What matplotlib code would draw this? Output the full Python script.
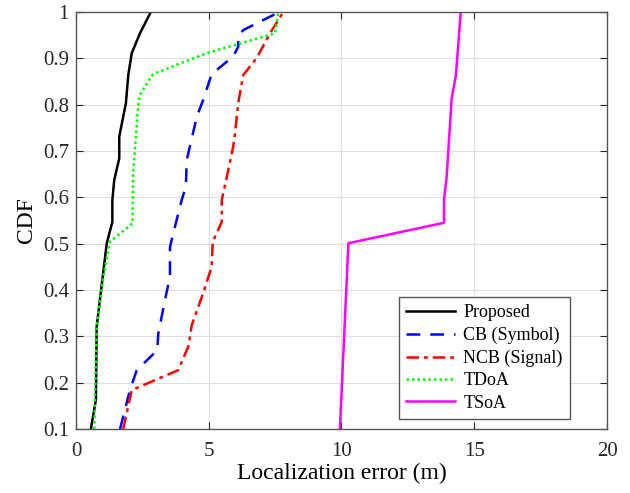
import numpy as np
import matplotlib.pyplot as plt

plt.rcParams['font.family'] = ['Liberation Serif', 'DejaVu Serif']

# CDF data
prop_x = [0.56, 0.75, 0.78, 1.16, 1.37, 1.37, 1.44, 1.63, 1.63, 1.88, 1.97, 2.10, 2.41, 2.82]
prop_y = [0.10, 0.163, 0.321, 0.501, 0.547, 0.594, 0.637, 0.684, 0.731, 0.803, 0.864, 0.911, 0.954, 1.0]

cb_x = [1.66, 2.03, 2.29, 3.06, 3.10, 3.35, 3.54, 3.54, 3.73, 3.98, 4.14, 4.17, 4.23, 4.55, 4.79, 5.11, 5.92, 6.11, 6.11, 6.30, 7.66]
cb_y = [0.10, 0.184, 0.227, 0.27, 0.306, 0.378, 0.429, 0.493, 0.537, 0.594, 0.623, 0.68, 0.695, 0.774, 0.81, 0.866, 0.904, 0.925, 0.947, 0.961, 1.0]

ncb_x = [1.78, 2.10, 3.85, 4.23, 4.36, 4.79, 5.11, 5.15, 5.49, 5.49, 5.68, 5.92, 5.99, 6.11, 6.30, 6.80, 7.31, 7.81]
ncb_y = [0.10, 0.184, 0.227, 0.278, 0.324, 0.393, 0.45, 0.504, 0.547, 0.594, 0.644, 0.709, 0.738, 0.803, 0.864, 0.90, 0.954, 1.0]

tdoa_x = [0.69, 0.78, 1.03, 1.28, 2.13, 2.15, 2.35, 2.41, 2.79, 2.91, 4.92, 7.50, 7.62]
tdoa_y = [0.10, 0.321, 0.429, 0.504, 0.544, 0.65, 0.803, 0.821, 0.857, 0.866, 0.911, 0.954, 1.0]

tsoa_x = [9.94, 10.26, 13.86, 13.86, 13.96, 14.15, 14.31, 14.49]
tsoa_y = [0.10, 0.501, 0.545, 0.594, 0.644, 0.814, 0.864, 1.0]

fig = plt.figure(figsize=(6.3, 4.93), dpi=100)
ax = fig.add_axes([0.1206, 0.1298, 0.8429, 0.8459])

ax.plot(prop_x, prop_y, color='black', lw=1.8, label='Proposed')
ax.plot(cb_x, cb_y, color='blue', lw=1.8, linestyle=(0, (5.5, 4)), label='CB (Symbol)')
ax.plot(ncb_x, ncb_y, color='red', lw=1.8, linestyle=(0, (5, 2, 1.5, 2)), label='NCB (Signal)')
ax.plot(tdoa_x, tdoa_y, color='#00ff00', lw=1.8, linestyle=(0, (1, 1.2)), label='TDoA')
ax.plot(tsoa_x, tsoa_y, color='magenta', lw=1.8, label='TSoA')

ax.set_xlim(0, 20)
ax.set_ylim(0.1, 1)
ax.set_xticks([0, 5, 10, 15, 20])
ax.set_yticks(np.arange(0.1, 1.01, 0.1))
ax.set_yticklabels(['0.1', '0.2', '0.3', '0.4', '0.5', '0.6', '0.7', '0.8', '0.9', '1'])
ax.grid(True, color='#dddddd', lw=0.8)
ax.tick_params(direction='in', top=True, right=True, labelsize=15, colors='#262626', length=5)
ax.tick_params(axis='x', pad=9)
ax.tick_params(axis='y', pad=5)
for s in ax.spines.values():
    s.set_color('#555555')
    s.set_linewidth(1.0)
ax.set_xlabel('Localization error (m)', fontsize=17, labelpad=2)
ax.set_ylabel('CDF', fontsize=17, labelpad=4)

leg = ax.legend(loc='lower right', bbox_to_anchor=(0.93, 0.024), fontsize=13, fancybox=False,
                framealpha=1, edgecolor='#555555', borderpad=0.4, labelspacing=0.3,
                handlelength=2.7, handletextpad=0.45, borderaxespad=0)
leg.get_frame().set_linewidth(1.0)

fig.savefig('out.png', dpi=100)
